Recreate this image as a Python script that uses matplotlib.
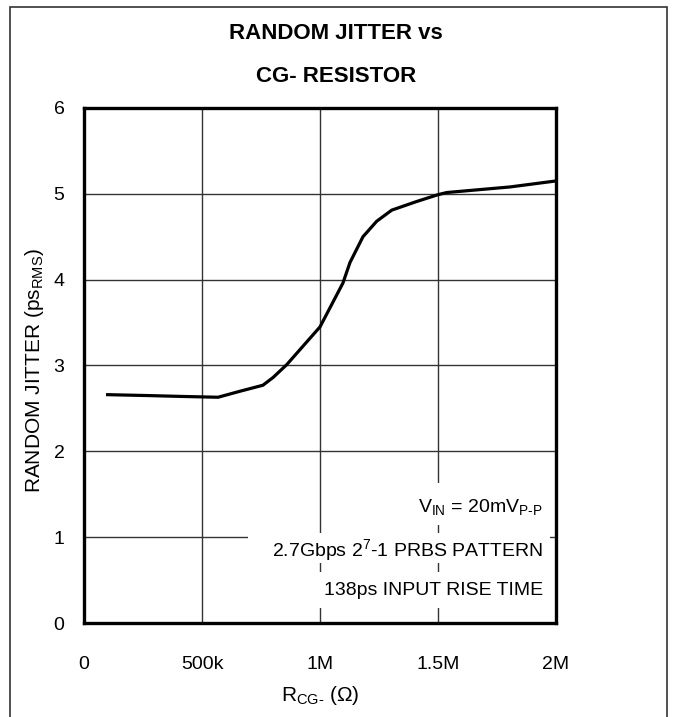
import matplotlib
matplotlib.use("Agg")
import matplotlib.pyplot as plt
from matplotlib.patches import Rectangle

plt.rcParams['font.family'] = ['Liberation Sans Narrow', 'Liberation Sans', 'DejaVu Sans']
plt.rcParams['mathtext.fontset'] = 'custom'
plt.rcParams['mathtext.rm'] = 'Liberation Sans'
plt.rcParams['mathtext.it'] = 'Liberation Sans'
plt.rcParams['mathtext.bf'] = 'Liberation Sans:bold'

# data
r_cg = [0.100e6, 0.266e6, 0.407e6, 0.568e6, 0.661e6, 0.758e6, 0.801e6, 0.859e6,
        1.000e6, 1.097e6, 1.127e6, 1.182e6, 1.240e6, 1.304e6, 1.409e6, 1.500e6,
        1.537e6, 1.805e6, 2.000e6]
jitter = [2.66, 2.65, 2.64, 2.63, 2.70, 2.77, 2.86, 3.01,
          3.45, 3.96, 4.20, 4.50, 4.68, 4.81, 4.91, 4.99,
          5.015, 5.08, 5.15]

x_ticks = [0, 500e3, 1e6, 1.5e6, 2e6]
x_labels = ['0', '500k', '1M', '1.5M', '2M']
y_ticks = [0, 1, 2, 3, 4, 5, 6]

notes = [r'$\mathregular{V_{IN}}$ = 20mV$\mathregular{_{P\text{-}P}}$',
         r'2.7Gbps 2$\mathregular{^7}$-1 PRBS PATTERN',
         '138ps INPUT RISE TIME']

fig = plt.figure(figsize=(6.78, 7.17), dpi=100)
ax = fig.add_axes([0.1239, 0.1311, 0.6962, 0.7183])

# outer frame of the figure (bottom edge runs off the page)
fig.patches.append(Rectangle((0.0147, -0.02), 0.9691, 1.0102, transform=fig.transFigure,
                             fill=False, edgecolor='#333333', linewidth=1.2))

ax.plot(r_cg, jitter, color='black', linewidth=2.3, zorder=4)

ax.set_xlim(0, 2e6)
ax.set_ylim(0, 6)
ax.set_xticks(x_ticks)
ax.set_xticklabels(x_labels)
ax.set_yticks(y_ticks)
ax.tick_params(length=0, labelsize=14)
ax.tick_params(axis='x', pad=24)
ax.tick_params(axis='y', pad=14)
ax.grid(True, color='#333333', linewidth=1.0)
ax.set_axisbelow(True)
for s in ax.spines.values():
    s.set_linewidth(2.4)
    s.set_zorder(5)

ax.set_xlabel(r'R$\mathregular{_{CG\text{-}}}$ (Ω)', fontsize=15, labelpad=8)
ax.set_ylabel(r'RANDOM JITTER (ps$\mathregular{_{RMS}}$)', fontsize=15, va='center')
ax.yaxis.set_label_coords(-0.104, 0.491)

# white blocks behind the condition notes (grid is broken there)
for x0, y0, w, h in [(0.669, 0.190, 0.314, 0.082),
                     (0.347, 0.117, 0.640, 0.058),
                     (0.458, 0.029, 0.525, 0.070)]:
    ax.add_patch(Rectangle((x0, y0), w, h, transform=ax.transAxes,
                           facecolor='white', edgecolor='none', zorder=2))
for txt, y in zip(notes, [0.225, 0.142, 0.064]):
    ax.text(0.972, y, txt, transform=ax.transAxes, ha='right', va='center',
            fontsize=14, zorder=3)

fig.text(0.496, 0.9526, 'RANDOM JITTER vs', ha='center', va='center',
         fontsize=16, fontweight='bold')
fig.text(0.496, 0.8940, 'CG- RESISTOR', ha='center', va='center',
         fontsize=16, fontweight='bold')

fig.savefig('out.png', dpi=100)
